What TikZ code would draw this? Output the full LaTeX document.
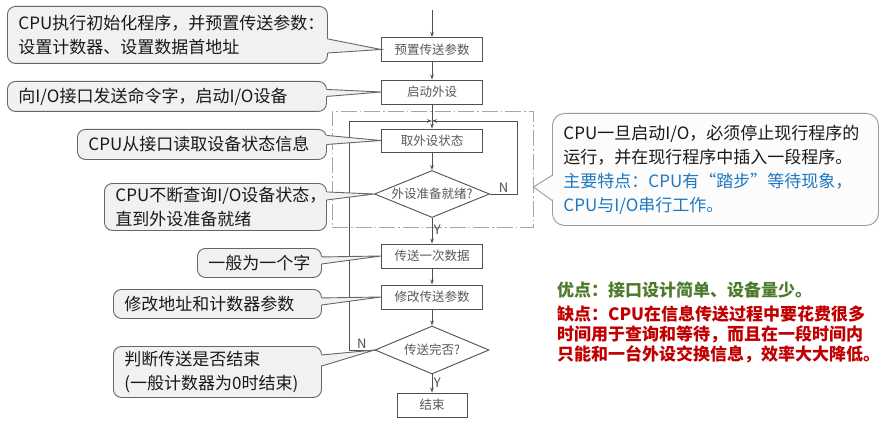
\documentclass[tikz,border=0pt]{standalone}
\usepackage{fontspec}
\setmainfont{Noto Sans CJK SC}
\usetikzlibrary{shapes.geometric,arrows.meta}
\definecolor{linegray}{HTML}{505050}
\definecolor{tipgray}{HTML}{666666}
\definecolor{callfill}{HTML}{F1F1F1}
\definecolor{notefill}{HTML}{FCFCFC}
\definecolor{noteblue}{HTML}{1F78C1}
\definecolor{prosgreen}{HTML}{4E7A2C}
\definecolor{consred}{HTML}{C00000}

\begin{document}
\begin{tikzpicture}[x=1pt, y=-1pt,
    stepbox/.style={draw=linegray, line width=0.9pt, fill=white, minimum width=101pt,
      minimum height=24pt, inner sep=0pt, text=black!65, font=\fontsize{12.5pt}{14pt}\selectfont},
    testbox/.style={diamond, aspect=2.4, draw=linegray, line width=0.9pt, fill=white,
      minimum width=115pt, minimum height=47pt, inner sep=0pt, text=black!65,
      font=\fontsize{12.5pt}{14pt}\selectfont},
    flow/.style={draw=linegray, line width=0.8pt, -{Stealth[length=5pt,width=3.5pt]}},
    callout/.style={draw=tipgray, line width=0.9pt, fill=callfill, rounded corners=8pt,
      anchor=north west, align=left, inner xsep=11pt, inner ysep=0pt, text=black!90,
      font=\fontsize{17pt}{24pt}\selectfont},
    tail/.style={draw=tipgray, line width=0.9pt},
    yn/.style={font=\fontsize{13pt}{13pt}\selectfont, text=linegray, inner sep=1.5pt}]

  \useasboundingbox (0,0) rectangle (891,425);

  % query loop frame
  \node[draw=gray!70, line width=0.9pt, dash pattern=on 16pt off 3pt on 1.5pt off 3pt,
    minimum width=201pt, minimum height=116pt, inner sep=0pt] (loop) at (432.5,169) {};

  % flowchart
  \coordinate (entry) at (432,10);
  \coordinate (merge) at (432,121);
  \coordinate (lbend) at (349,121);
  \coordinate (rbend) at (517,121);
  \node[stepbox] (pre) at (432,49.5) {预置传送参数};
  \node[stepbox] (start) at (432,92) {启动外设};
  \node[stepbox, minimum height=23pt] (get) at (432,140.5) {取外设状态};
  \node[testbox] (ready) at (432,194) {外设准备就绪?};
  \node[stepbox] (send) at (432,256) {传送一次数据};
  \node[stepbox] (mod) at (432,297) {修改传送参数};
  \node[testbox, minimum width=114pt, minimum height=48pt] (done) at (432,350) {传送完否?};
  \node[stepbox, minimum width=70pt] (fin) at (432,405) {结束};

  \draw[flow] (entry) -- (pre);
  \draw[flow] (pre) -- (start);
  \draw[flow] (start) -- (get);
  \draw[flow] (get) -- (ready);
  \draw[flow] (ready) -- node[yn, right, pos=0.45] {Y} (send);
  \draw[flow] (send) -- (mod);
  \draw[flow] (mod) -- (done);
  \draw[flow] (done) -- node[yn, right, pos=0.45] {Y} (fin);
  \draw[flow] (ready.east) -| node[yn, above, pos=0.25] {N} (rbend) -- (merge);
  \draw[flow] (done.west) -| node[yn, above, pos=0.25] {N} (lbend) -- (merge);

  % callouts on the left
  \node[callout, text width=298pt, minimum height=57pt] (c1) at (7,6)
    {CPU执行初始化程序，并预置传送参数：\\设置计数器、设置数据首地址};
  \node[callout, text width=297pt, minimum height=30pt] (c2) at (7,81)
    {向I/O接口发送命令字，启动I/O设备};
  \node[callout, text width=227pt, minimum height=30pt] (c3) at (77,129)
    {CPU从接口读取设备状态信息};
  \node[callout, text width=200pt, minimum height=47pt] (c4) at (104,183)
    {CPU不断查询I/O设备状态，\\直到外设准备就绪};
  \node[callout, text width=102pt, minimum height=29pt] (c5) at (197,248)
    {一般为一个字};
  \node[callout, text width=186pt, minimum height=29pt] (c6) at (113,289)
    {修改地址和计数器参数};
  \node[callout, text width=186pt, minimum height=51pt] (c7) at (113,346)
    {判断传送是否结束\\(一般计数器为0时结束)};

  \fill[callfill] ([shift={(-2pt,-4pt)}]c1.east) -- (pre.west) -- ([shift={(-2pt,-18pt)}]c1.east) -- cycle;
  \draw[tail] ([yshift=-4pt]c1.east) -- (pre.west) -- ([yshift=-18pt]c1.east);
  \fill[callfill] ([shift={(-2pt,7pt)}]c2.east) -- (start.west) -- ([shift={(-2pt,0pt)}]c2.east) -- cycle;
  \draw[tail] ([yshift=7pt]c2.east) -- (start.west) -- (c2.east);
  \fill[callfill] ([shift={(-2pt,9pt)}]c3.east) -- (get.west) -- ([shift={(-2pt,0pt)}]c3.east) -- cycle;
  \draw[tail] ([yshift=9pt]c3.east) -- (get.west) -- (c3.east);
  \fill[callfill] ([shift={(-2pt,15pt)}]c4.east) -- (ready.west) -- ([shift={(-2pt,7pt)}]c4.east) -- cycle;
  \draw[tail] ([yshift=15pt]c4.east) -- (ready.west) -- ([yshift=7pt]c4.east);
  \fill[callfill] ([shift={(-2pt,6pt)}]c5.east) -- (send.west) -- ([shift={(-2pt,-1pt)}]c5.east) -- cycle;
  \draw[tail] ([yshift=6pt]c5.east) -- (send.west) -- ([yshift=-1pt]c5.east);
  \fill[callfill] ([shift={(-2pt,6pt)}]c6.east) -- (mod.west) -- ([shift={(-2pt,-1pt)}]c6.east) -- cycle;
  \draw[tail] ([yshift=6pt]c6.east) -- (mod.west) -- ([yshift=-1pt]c6.east);
  \fill[callfill] ([shift={(-2pt,17pt)}]c7.east) -- (done.west) -- ([shift={(-2pt,6pt)}]c7.east) -- cycle;
  \draw[tail] ([yshift=17pt]c7.east) -- (done.west) -- ([yshift=6pt]c7.east);

  % note on the right
  \node[callout, fill=notefill, draw=gray!80, rounded corners=12pt, text width=304pt,
    minimum height=112pt] (note) at (552,113)
    {CPU一旦启动I/O，必须停止现行程序的\\运行，并在现行程序中插入一段程序。\\
     \textcolor{noteblue}{主要特点：CPU有“踏步”等待现象，}\\
     \textcolor{noteblue}{CPU与I/O串行工作。}};
  \fill[notefill] ([shift={(2pt,-6pt)}]note.west) -- ([yshift=-18pt]loop.east) -- ([shift={(2pt,-31pt)}]note.west) -- cycle;
  \draw[tail, draw=gray!80] ([yshift=-6pt]note.west) -- ([yshift=-18pt]loop.east) -- ([yshift=-31pt]note.west);

  % pros and cons
  \node[anchor=north west, align=left, inner sep=0pt, text=prosgreen,
    font=\bfseries\fontsize{17pt}{24pt}\selectfont] (pros) at (557,282)
    {优点：接口设计简单、设备量少。};
  \node[anchor=north west, align=left, inner sep=0pt, text=consred,
    font=\bfseries\fontsize{17pt}{20pt}\selectfont] (cons) at (557,306)
    {缺点：CPU在信息传送过程中要花费很多\\时间用于查询和等待，而且在一段时间内\\只能和一台外设交换信息，效率大大降低。};
\end{tikzpicture}
\end{document}
